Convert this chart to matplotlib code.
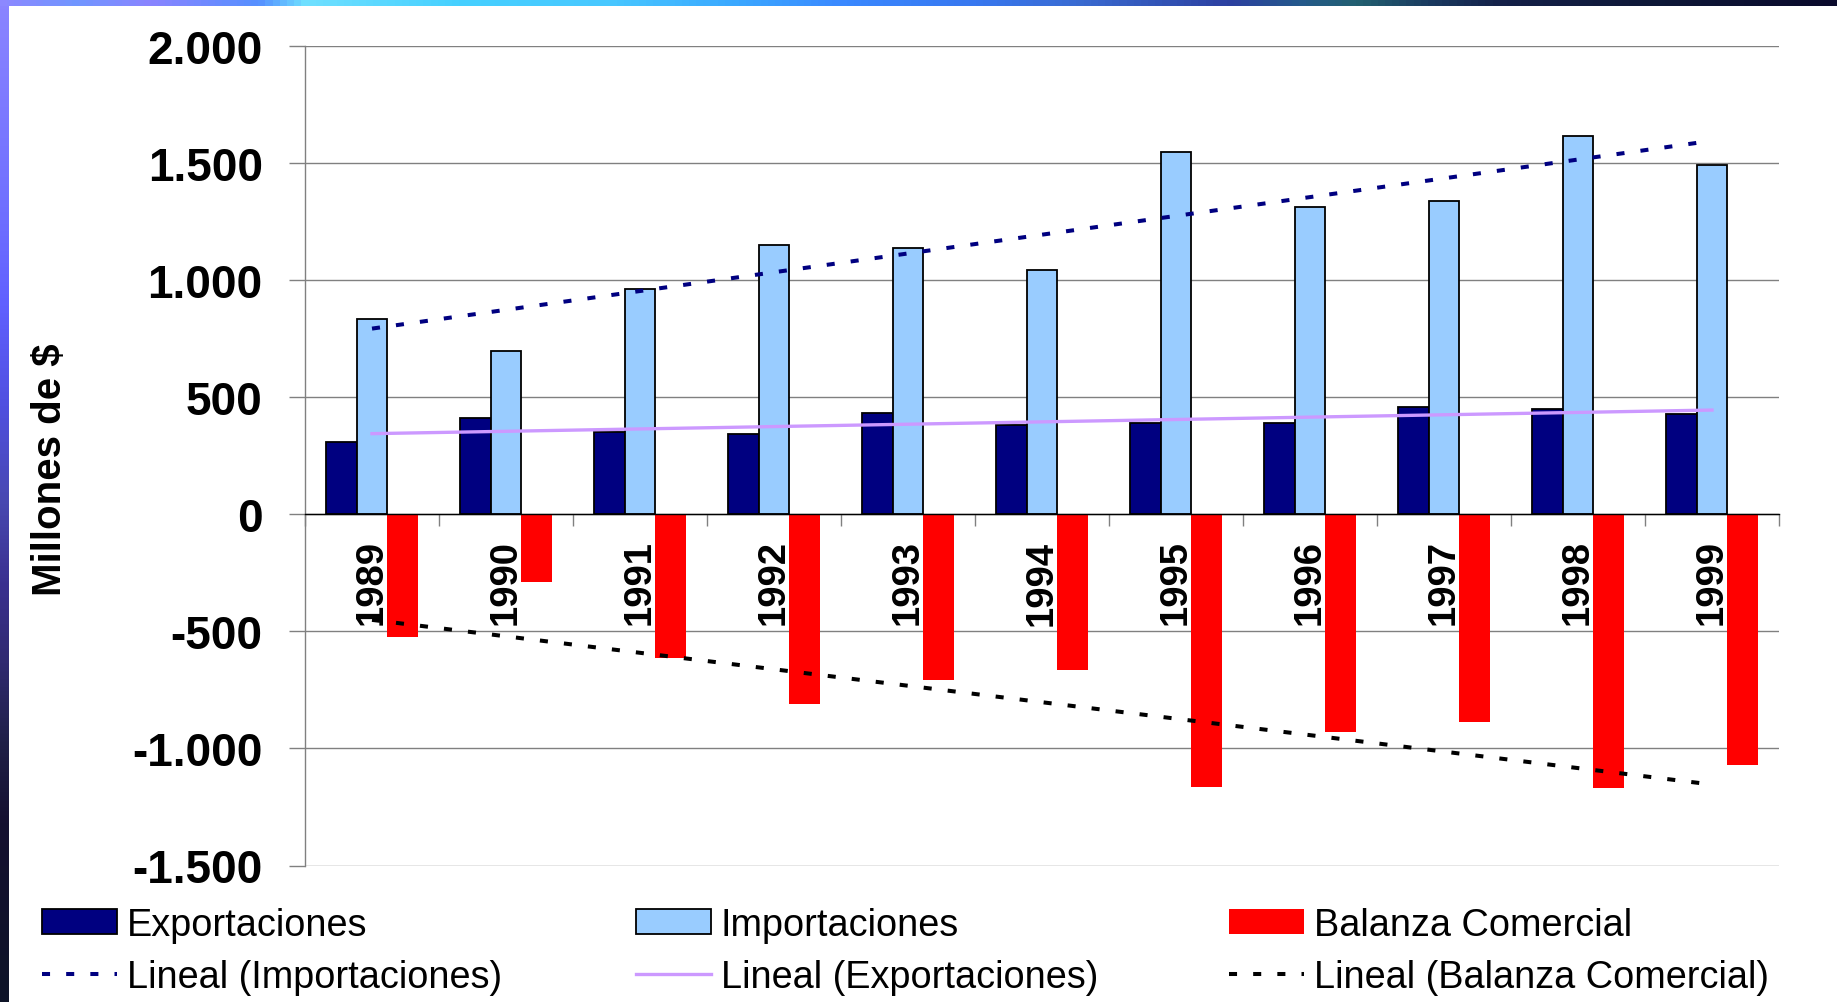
import numpy as np
import matplotlib
matplotlib.use("Agg")
import matplotlib.pyplot as plt
from matplotlib.colors import LinearSegmentedColormap
from matplotlib.lines import Line2D
from matplotlib.patches import Patch

# ---------------- data ----------------
years = ["1989", "1990", "1991", "1992", "1993", "1994", "1995", "1996", "1997", "1998", "1999"]
exportaciones = [311, 410, 352, 345, 435, 380, 390, 390, 460, 450, 427]
importaciones = [835, 698, 965, 1150, 1140, 1045, 1550, 1315, 1340, 1615, 1494]
balanza = [-525, -290, -615, -808, -708, -665, -1165, -928, -885, -1167, -1070]
ytick_values = [-1500, -1000, -500, 0, 500, 1000, 1500, 2000]
ytick_labels = ["-1.500", "-1.000", "-500", "0", "500", "1.000", "1.500", "2.000"]

C_EXP = "#000080"
C_IMP = "#99CCFF"
C_BAL = "#FF0000"
C_LEXP = "#CC99FF"

plt.rcParams["font.family"] = ["Liberation Sans", "DejaVu Sans"]

W, H = 1837, 1003
fig = plt.figure(figsize=(W / 100, H / 100), dpi=100)
fig.patch.set_facecolor("white")

# ---------------- decorative border gradients ----------------
top_stops = [(0.00, "#8c88ff"), (0.04, "#7096ff"), (0.08, "#8a84ff"), (0.14, "#5590ff"),
             (0.165, "#6fe0ff"), (0.25, "#45d0ff"), (0.33, "#48c8ff"), (0.40, "#3aa8ff"),
             (0.46, "#3a88ff"), (0.53, "#3878f0"), (0.59, "#3a6ad0"), (0.67, "#2c40a0"),
             (0.71, "#245a8a"), (0.74, "#226070"), (0.78, "#1a3a60"), (0.82, "#142048"),
             (0.90, "#0e1838"), (1.00, "#0a0a2c")]
left_stops = [(0.00, "#8a84ff"), (0.20, "#7070ff"), (0.30, "#6060ff"), (0.40, "#5050e0"),
              (0.50, "#4848b0"), (0.58, "#3a3090"), (0.66, "#302a70"), (0.74, "#202048"),
              (0.82, "#151030"), (1.00, "#0e1428")]
cm_top = LinearSegmentedColormap.from_list("top", top_stops)
cm_left = LinearSegmentedColormap.from_list("left", left_stops)

band_h = 7 / H
strip_w = 8.5 / W
ax_top = fig.add_axes([0, 1 - band_h, 1, band_h])
ax_top.imshow(np.linspace(0, 1, 512)[None, :], cmap=cm_top, aspect="auto")
ax_top.axis("off")
ax_left = fig.add_axes([0, 0, strip_w, 1 - band_h])
ax_left.imshow(np.linspace(0, 1, 512)[:, None], cmap=cm_left, aspect="auto")
ax_left.axis("off")

# ---------------- main axes ----------------
left_px, right_px = 305, 1779
top_px, bottom_px = 47.3, 866.5
ax = fig.add_axes([left_px / W, 1 - bottom_px / H, (right_px - left_px) / W, (bottom_px - top_px) / H])

x = np.arange(len(years))
bw = 0.228
ax.bar(x - bw, exportaciones, bw, color=C_EXP, edgecolor="black", linewidth=1.3, zorder=3)
ax.bar(x, importaciones, bw, color=C_IMP, edgecolor="black", linewidth=1.3, zorder=3)
ax.bar(x + bw, balanza, bw, color=C_BAL, edgecolor="none", zorder=3)

# linear trendlines (least squares fit of each series, as in the spreadsheet)
def trend(vals):
    k, b = np.polyfit(x, vals, 1)
    return k * x + b

ax.plot(x, trend(importaciones), color=C_EXP, lw=2.9, dashes=(2, 4), zorder=4,
        dash_capstyle="butt")
ax.plot(x, trend(exportaciones), color=C_LEXP, lw=2.4, zorder=4)
ax.plot(x, trend(balanza), color="black", lw=2.9, dashes=(2, 4), zorder=4,
        dash_capstyle="butt")

ax.set_xlim(-0.5, len(years) - 0.5)
ax.set_ylim(-1500, 2000)

ax.set_yticks(ytick_values)
ax.set_yticklabels(ytick_labels, fontsize=33, fontweight="bold")
ax.tick_params(axis="y", direction="out", length=11.5, width=1.0, color="#808080", pad=19)
ax.yaxis.grid(True, color="#808080", lw=1.0, zorder=0)
ax.set_axisbelow(True)

# category boundary ticks (no labels)
ax.set_xticks(np.arange(-0.5, len(years), 1.0))
ax.tick_params(axis="x", which="major", direction="out", length=8.6, width=1.0,
               color="#808080", labelbottom=False)

# year labels below the zero line at each category centre
lbl_tr = matplotlib.transforms.blended_transform_factory(ax.transData, ax.transData) + \
    matplotlib.transforms.ScaledTranslation(0, -25 / 100, fig.dpi_scale_trans)
for xi, yr in zip(x, years):
    ax.text(xi, 0, yr, transform=lbl_tr, rotation=90, fontsize=27.5, fontweight="bold",
            ha="center", va="top", zorder=6)

for s in ["top", "right"]:
    ax.spines[s].set_visible(False)
ax.spines["left"].set_color("#808080")
ax.spines["left"].set_linewidth(1.0)
ax.spines["bottom"].set_position(("data", 0))
ax.spines["bottom"].set_color("black")
ax.spines["bottom"].set_linewidth(1.0)
ax.spines["bottom"].set_zorder(5)

fig.text(50 / W, 1 - 469.5 / H, "Millones de $", rotation=90, fontsize=29, fontweight="bold",
         ha="center", va="center")

# ---------------- legend (3 columns x 2 rows) ----------------
h_exp = Patch(facecolor=C_EXP, edgecolor="black", linewidth=1.3)
h_imp = Patch(facecolor=C_IMP, edgecolor="black", linewidth=1.3)
h_bal = Patch(facecolor=C_BAL, edgecolor="none")
l_imp = Line2D([], [], color=C_EXP, lw=2.9, dashes=(2, 4))
l_exp = Line2D([], [], color=C_LEXP, lw=2.4)
l_bal = Line2D([], [], color="black", lw=2.9, dashes=(2, 4))

cols = [([h_exp, l_imp], ["Exportaciones", "Lineal (Importaciones)"], 42),
        ([h_imp, l_exp], ["Importaciones", "Lineal (Exportaciones)"], 636),
        ([h_bal, l_bal], ["Balanza Comercial", "Lineal (Balanza Comercial)"], 1229)]
for handles, labels, xpx in cols:
    fig.legend(handles, labels, loc="upper left", bbox_to_anchor=(xpx / W, 1 - 908 / H),
               frameon=False, fontsize=27.3, borderpad=0, borderaxespad=0,
               handlelength=1.98, handleheight=0.65, handletextpad=0.26, labelspacing=0.42)

fig.savefig("out.png", dpi=100, facecolor="white")
